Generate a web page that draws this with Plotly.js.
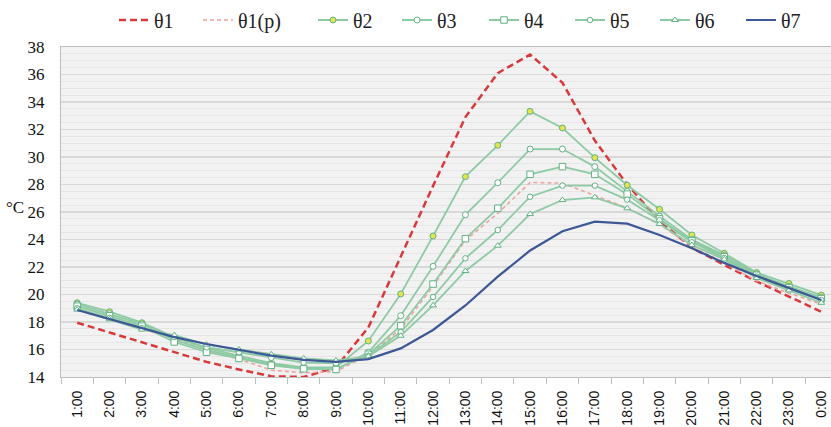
<!DOCTYPE html>
<html><head><meta charset="utf-8">
<script src="https://cdn.plot.ly/plotly-3.0.1.min.js"></script>
<style>html,body{margin:0;padding:0;background:#fff}#chart{width:831px;height:427px}</style>
</head><body><div id="chart"></div>
<script>
const hours = ['1:00','2:00','3:00','4:00','5:00','6:00','7:00','8:00','9:00','10:00','11:00','12:00',
  '13:00','14:00','15:00','16:00','17:00','18:00','19:00','20:00','21:00','22:00','23:00','0:00'];
const seriesNames = ['θ1','θ1(p)','θ2','θ3','θ4','θ5','θ6','θ7'];
const theta1  = [17.95,17.25,16.5,15.8,15.1,14.55,14.05,14.0,14.7,17.6,22.8,27.9,32.9,36.1,37.45,35.4,31.2,28.0,25.35,23.4,22.15,20.95,19.85,18.75];
const theta1p = [18.9,18.2,17.5,16.8,15.95,15.3,14.5,14.3,14.4,15.6,17.5,20.6,23.95,25.9,28.15,28.1,27.2,26.3,25.1,23.5,22.3,21.0,20.1,19.3];
const theta2  = [19.4,18.75,17.95,16.9,16.1,15.55,15.0,14.7,14.7,16.62,20.04,24.25,28.57,30.85,33.32,32.11,29.95,27.95,26.2,24.33,23.0,21.6,20.8,19.96];
const theta3  = [19.3,18.6,17.85,16.7,15.95,15.45,14.9,14.6,14.55,15.8,18.46,22.05,25.8,28.13,30.58,30.58,29.3,27.5,25.7,24.0,22.85,21.5,20.6,19.8];
const theta4  = [19.15,18.45,17.7,16.55,15.8,15.35,14.85,14.6,14.55,15.65,17.73,20.76,24.06,26.27,28.74,29.3,28.74,27.3,25.5,23.9,22.75,21.4,20.5,19.7];
const theta5  = [19.0,18.3,17.55,16.9,16.15,15.8,15.4,15.05,15.0,15.55,17.27,19.82,22.63,24.69,27.11,27.92,27.92,26.9,25.4,23.8,22.65,21.3,20.4,19.6];
const theta6  = [18.9,18.2,17.45,17.05,16.35,16.0,15.65,15.35,15.2,15.5,17.0,19.21,21.71,23.55,25.85,26.87,27.07,26.27,25.13,23.6,22.55,21.2,20.3,19.4];
const theta7  = [18.87,18.2,17.54,16.9,16.4,15.97,15.55,15.25,15.1,15.3,16.08,17.42,19.2,21.3,23.2,24.6,25.3,25.15,24.33,23.36,22.3,21.35,20.45,19.6];

const values = [theta1, theta1p, theta2, theta3, theta4, theta5, theta6, theta7];

const GREEN = '#8ecaa3', GREEN_DARK = '#62b283';
const styles = [
  {mode:'lines', line:{color:'#d8393b', width:2.5, dash:'7px,4px'}},
  {mode:'lines', line:{color:'#f0a3a3', width:1.6, dash:'4px,3px'}},
  {mode:'lines+markers', line:{color:GREEN, width:1.8}, marker:{symbol:'circle', size:6, color:'#e4e451', line:{color:GREEN_DARK, width:1}}},
  {mode:'lines+markers', line:{color:GREEN, width:1.8}, marker:{symbol:'circle', size:6, color:'#ffffff', line:{color:GREEN_DARK, width:1}}},
  {mode:'lines+markers', line:{color:GREEN, width:1.8}, marker:{symbol:'square', size:6.5, color:'#ffffff', line:{color:GREEN_DARK, width:1}}},
  {mode:'lines+markers', line:{color:GREEN, width:1.8}, marker:{symbol:'circle', size:5.5, color:'#ffffff', line:{color:GREEN_DARK, width:1}}},
  {mode:'lines+markers', line:{color:GREEN, width:1.8}, marker:{symbol:'triangle-up', size:6, color:'#ffffff', line:{color:GREEN_DARK, width:1}}},
  {mode:'lines', line:{color:'#3d5897', width:2.2}}
];

const legendIds = ['legend','legend2','legend3','legend4','legend5','legend6','legend7','legend8'];
const legendLeftPx = [114,198,313,397,484,570,655,741];

const traces = values.map((v,i)=>Object.assign({
  type:'scatter', x:hours, y:v, name:seriesNames[i], legend:legendIds[i], hoverinfo:'skip'
}, styles[i]));

const layout = {
  width:831, height:427,
  margin:{l:61, r:0, t:47, b:50, pad:0},
  paper_bgcolor:'#ffffff', plot_bgcolor:'#f2f2f2',
  showlegend:true,
  xaxis:{type:'category', range:[-0.5, 23.3], tickson:'boundaries', ticks:'outside', ticklen:6,
    tickcolor:'#bfbfbf', tickangle:-90, showline:true, linecolor:'#bfbfbf', linewidth:1, mirror:true,
    showgrid:false, zeroline:false, ticklabelstandoff:7,
    tickfont:{family:'Liberation Sans', size:14, color:'#111'}},
  yaxis:{range:[14,38], tick0:14, dtick:2, showline:true, linecolor:'#bfbfbf', linewidth:1,
    gridcolor:'#d9d9d9', gridwidth:1.5, zeroline:false, ticks:'', ticklabelstandoff:12,
    minor:{dtick:0.5, showgrid:true, gridcolor:'#e6e6e6', gridwidth:1},
    tickfont:{family:'Liberation Serif', size:17, color:'#111'}},
  annotations:[{text:'°C', xref:'paper', yref:'y', x:-46/770, y:26.3, showarrow:false,
    xanchor:'center', yanchor:'middle', font:{family:'Liberation Serif', size:17, color:'#111'}}]
};
legendIds.forEach((id,i)=>{
  layout[id] = {xref:'container', yref:'container', x:legendLeftPx[i]/831, y:1-20/427,
    xanchor:'left', yanchor:'middle', orientation:'h', bgcolor:'rgba(0,0,0,0)', borderwidth:0,
    font:{family:'Liberation Serif', size:20, color:'#222'}};
});

Plotly.newPlot('chart', traces, layout, {displayModeBar:false, staticPlot:true});
</script></body></html>
